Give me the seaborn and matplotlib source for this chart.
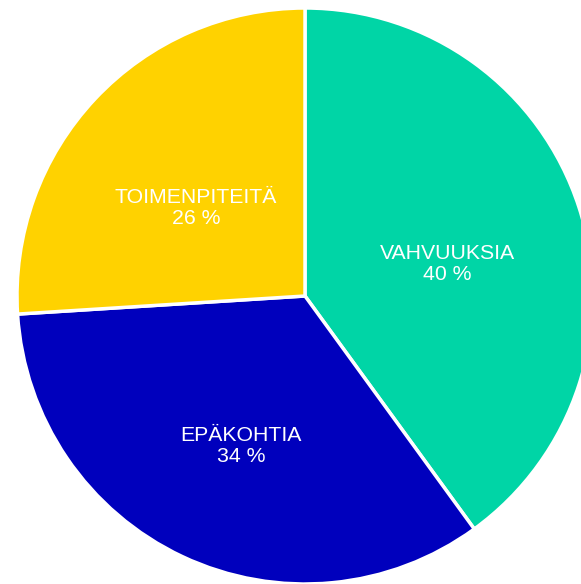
import matplotlib
matplotlib.use("Agg")
import matplotlib.pyplot as plt
import seaborn as sns

# data for the pie
categories = ["VAHVUUKSIA", "EPÄKOHTIA", "TOIMENPITEITÄ"]
shares = [40, 34, 26]
colors = ["#00D5A6", "#0000BD", "#FFD200"]

sns.set_theme(style="white")
plt.rcParams["font.family"] = ["Liberation Sans", "DejaVu Sans"]

fig = plt.figure(figsize=(5.81, 5.84), dpi=100)
# square axes, pie overflows the right edge like the reference
ax = fig.add_axes([17 / 581, 0, 576 / 581, 576 / 584])

labels_iter = iter(f"{c}\n{v} %" for c, v in zip(categories, shares))

wedges, texts, autotexts = ax.pie(
    shares,
    colors=sns.color_palette(colors),
    startangle=90,
    counterclock=False,
    autopct=lambda p: next(labels_iter),
    pctdistance=0.52,
    wedgeprops={"edgecolor": "white", "linewidth": 2.5},
    textprops={"color": "white", "fontsize": 15.3, "linespacing": 1.15},
)

# labels sit a bit lower in the original
for t in autotexts:
    x, y = t.get_position()
    t.set_position((x, y - 0.05))

ax.set_xlim(-1, 1)
ax.set_ylim(-1, 1)
ax.axis("off")

fig.savefig("out.png", dpi=100)
